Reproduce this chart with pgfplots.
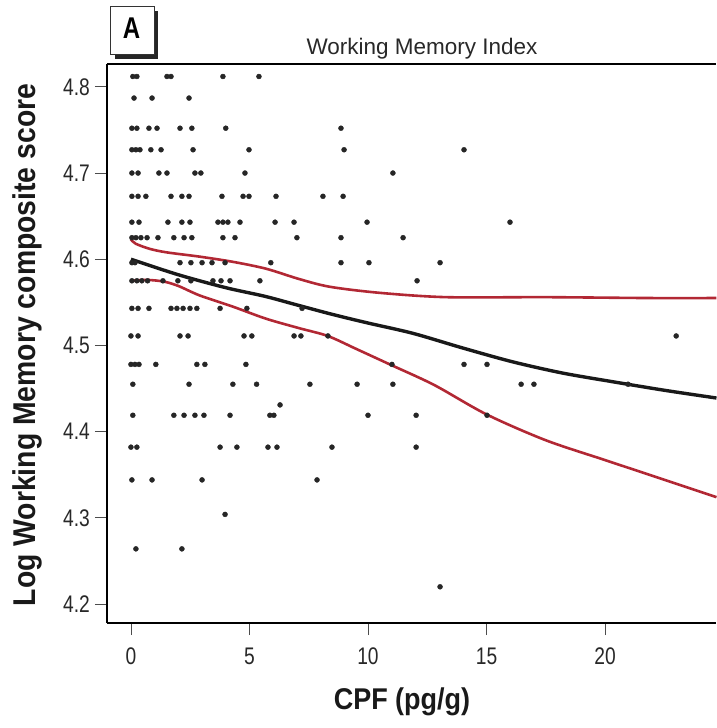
\documentclass[border=0pt]{standalone}
\usepackage{fontspec}
\setmainfont{Liberation Sans}
\newfontfamily\tickfont{Liberation Sans}[FakeStretch=0.8]
\newfontfamily\labfont{Liberation Sans}[FakeStretch=0.9]
\usepackage{pgfplots}
\pgfplotsset{compat=1.18}
\usepackage{pgfplotstable}
\definecolor{cired}{RGB}{178,40,52}
\definecolor{txt}{RGB}{40,40,40}

\pgfplotstableread{
x y
0.08 4.812
0.25 4.812
1.52 4.812
1.69 4.812
3.88 4.812
5.40 4.812
0.13 4.787
0.89 4.787
2.45 4.787
0.04 4.752
0.25 4.752
0.76 4.752
1.10 4.752
2.07 4.752
2.57 4.752
4.00 4.752
8.86 4.752
0.04 4.727
0.21 4.727
0.38 4.727
0.84 4.727
1.27 4.727
2.62 4.727
4.98 4.727
8.99 4.727
14.05 4.727
0.04 4.700
0.30 4.700
1.18 4.700
1.52 4.700
2.70 4.700
2.95 4.700
4.81 4.700
11.05 4.700
0.04 4.673
0.30 4.673
0.63 4.673
1.69 4.673
2.15 4.673
2.45 4.673
3.84 4.673
4.73 4.673
4.98 4.673
6.12 4.673
8.10 4.673
8.95 4.673
0.04 4.643
0.34 4.643
1.56 4.643
2.15 4.643
2.49 4.643
3.67 4.643
3.88 4.643
4.09 4.643
4.60 4.643
6.08 4.643
6.88 4.643
9.96 4.643
15.99 4.643
0.04 4.625
0.21 4.625
0.42 4.625
0.68 4.625
1.14 4.625
1.81 4.625
2.24 4.625
2.57 4.625
3.88 4.625
4.39 4.625
7.00 4.625
8.86 4.625
11.48 4.625
0.04 4.596
0.17 4.596
2.07 4.596
2.53 4.596
3.00 4.596
3.42 4.596
3.97 4.596
5.90 4.596
8.86 4.596
10.04 4.596
13.04 4.596
0.04 4.575
0.25 4.575
0.46 4.575
0.70 4.575
1.35 4.575
1.98 4.575
2.53 4.575
3.46 4.575
3.80 4.575
4.18 4.575
5.44 4.575
12.07 4.575
0.04 4.543
0.30 4.543
0.76 4.543
1.69 4.543
1.94 4.543
2.20 4.543
2.49 4.543
2.78 4.543
3.76 4.543
4.89 4.543
7.22 4.543
0.00 4.511
0.30 4.511
2.07 4.511
2.41 4.511
4.77 4.511
5.10 4.511
6.88 4.511
7.17 4.511
8.31 4.511
23.00 4.511
0.00 4.478
0.17 4.478
0.34 4.478
1.05 4.478
2.78 4.478
3.12 4.478
4.85 4.478
11.01 4.478
14.05 4.478
15.02 4.478
0.08 4.455
2.45 4.455
4.30 4.455
5.30 4.455
7.55 4.455
9.54 4.455
11.05 4.455
16.46 4.455
17.00 4.455
20.97 4.455
6.29 4.431
0.08 4.419
1.81 4.419
2.24 4.419
2.70 4.419
3.08 4.419
4.18 4.419
5.86 4.419
6.03 4.419
10.00 4.419
12.03 4.419
15.02 4.419
0.00 4.382
0.25 4.382
3.76 4.382
4.47 4.382
5.78 4.382
6.16 4.382
8.48 4.382
12.03 4.382
0.04 4.344
0.89 4.344
3.00 4.344
7.85 4.344
3.97 4.304
0.21 4.264
2.15 4.264
13.04 4.220
}\ptsdata

\pgfplotstableread{
x y
0.00 4.600
2.00 4.582
4.00 4.567
5.65 4.557
7.00 4.547
8.50 4.536
10.00 4.526
11.90 4.514
14.00 4.497
16.10 4.481
18.20 4.468
20.30 4.458
22.50 4.448
24.70 4.439
}\fitdata

\pgfplotstableread{
x y
0.00 4.623
0.20 4.618
0.80 4.612
1.50 4.608
2.90 4.603
4.30 4.597
5.70 4.589
7.10 4.577
8.40 4.568
10.50 4.561
13.30 4.556
17.50 4.556
21.80 4.555
24.70 4.555
}\updata

\pgfplotstableread{
x y
0.00 4.575
0.70 4.576
1.40 4.574
2.00 4.569
2.90 4.558
4.30 4.545
5.70 4.531
7.10 4.520
8.30 4.511
9.50 4.496
11.00 4.477
12.80 4.454
15.00 4.420
17.50 4.390
20.00 4.367
22.30 4.346
24.70 4.324
}\lodata

\begin{document}
\begin{tikzpicture}
\begin{axis}[
  scale only axis,
  width=609pt, height=559pt,
  xmin=-1.01, xmax=24.68,
  ymin=4.178, ymax=4.8265,
  axis x line*=bottom, axis y line*=left,
  axis line style={line width=1.2pt, black},
  xtick={0,5,10,15,20},
  ytick={4.2,4.3,4.4,4.5,4.6,4.7,4.8},
  tick align=outside,
  major tick length=12pt,
  tick style={line width=0.8pt, black!70},
  minor tick num=0,
  /pgf/number format/assume math mode=true,
  yticklabel style={/pgf/number format/fixed, /pgf/number format/precision=1,
     /pgf/number format/fixed zerofill, font=\tickfont\fontsize{24}{26}\selectfont, text=txt, inner sep=0pt, xshift=-5pt},
  xticklabel style={font=\tickfont\fontsize{24}{26}\selectfont, text=txt, inner sep=0pt, yshift=-13pt},
  clip=false,
]
\coordinate (o) at (rel axis cs:0,0);
\draw[line width=1.2pt] (rel axis cs:0,1) -- (rel axis cs:1,1);
\addplot[only marks, mark=*, mark size=2.5pt, black!85, mark options={fill=black!85, draw=black!85}] table[x=x,y=y] {\ptsdata};
\addplot[cired, line width=2.6pt, smooth] table[x=x,y=y] {\updata};
\addplot[cired, line width=2.6pt, smooth] table[x=x,y=y] {\lodata};
\addplot[black!90, line width=3.4pt, smooth] table[x=x,y=y] {\fitdata};
\end{axis}
% labels
\node[rotate=90, font=\labfont\fontsize{31.5}{34}\bfseries\selectfont, text=black!90] at ([shift={(-80pt,278pt)}]o) {Log Working Memory composite score};
\node[font=\labfont\fontsize{30}{34}\bfseries\selectfont, text=black!90] at ([shift={(295pt,-79pt)}]o) {CPF (pg/g)};
\node[font=\fontsize{22.5}{26}\selectfont, text=txt] at ([shift={(315pt,574pt)}]o) {Working Memory Index};
% panel letter box
\fill[black!85] ([shift={(8pt,564pt)}]o) rectangle ([shift={(51pt,612pt)}]o);
\filldraw[fill=white, draw=black!80, line width=0.6pt] ([shift={(3pt,569pt)}]o) rectangle ([shift={(47pt,617pt)}]o);
\node[font=\tickfont\fontsize{30}{32}\bfseries\selectfont] at ([shift={(24.5pt,595pt)}]o) {A};
\pgfresetboundingbox
\path[use as bounding box] ([shift={(-107pt,-105pt)}]o) rectangle ([shift={(609pt,623pt)}]o);
\end{tikzpicture}
\end{document}
